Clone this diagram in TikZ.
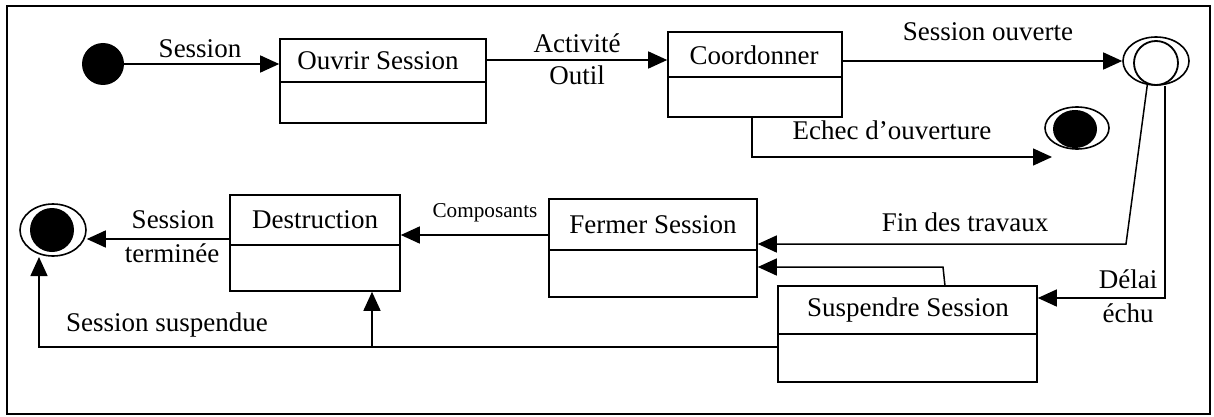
\documentclass[tikz,border=0pt]{standalone}
\usepackage{fontspec}
\setmainfont{Liberation Serif}
\usetikzlibrary{arrows.meta,shapes.geometric,fit,calc}

\tikzset{
  lbl/.style={inner sep=0pt, font=\fontsize{13.5}{15}\selectfont},
  small/.style={inner sep=0pt, font=\fontsize{10.6}{12}\selectfont},
  statebox/.style={draw, rectangle, inner sep=0pt, line width=0.8pt},
  arr/.style={line width=0.75pt, -{Triangle[length=9.5pt,width=8.5pt]}},
  ring/.style={draw, ellipse, inner sep=0pt, line width=0.8pt, fill=white},
  dot/.style={ellipse, inner sep=0pt, fill=black},
}

\begin{document}
\begin{tikzpicture}[x=0.5pt,y=-0.5pt]
\useasboundingbox (0,0) rectangle (1214,417);
% outer frame
\draw[line width=0.8pt] (7,6) rectangle (1210,414);

% initial, final and history states
\node[dot, minimum width=21pt, minimum height=21pt] (start) at (103,64) {};
\node[ring, minimum width=33pt, minimum height=24pt] (hist) at (1156,61) {};
\node[draw, circle, inner sep=0pt, line width=0.9pt, minimum size=22pt] (histIn) at (1156,63) {};
\node[ring, minimum width=32pt, minimum height=21pt] (fin1) at (1077,128) {};
\node[dot, minimum width=22pt, minimum height=19pt] (fin1In) at (1075,129) {};
\node[ring, minimum width=33pt, minimum height=26pt] (fin2) at (53,230) {};
\node[dot, minimum width=22pt, minimum height=22pt] (fin2In) at (52,230) {};

% state boxes (name compartment + empty compartment)
\node[statebox, fit={(280,39) (486,123)}] (ouvrir) {};
\draw[line width=0.8pt] (ouvrir.west |- 0,82) -- (ouvrir.east |- 0,82);
\node[lbl] (ouvrirT) at (378,61) {Ouvrir Session};

\node[statebox, fit={(668,32) (842,117)}] (coord) {};
\draw[line width=0.8pt] (coord.west |- 0,77) -- (coord.east |- 0,77);
\node[lbl] (coordT) at (754,55) {Coordonner};

\node[statebox, fit={(230,195) (400,291)}] (destr) {};
\draw[line width=0.8pt] (destr.west |- 0,245) -- (destr.east |- 0,245);
\node[lbl] (destrT) at (315,220) {Destruction};

\node[statebox, fit={(549,199) (757,297)}] (fermer) {};
\draw[line width=0.8pt] (fermer.west |- 0,250) -- (fermer.east |- 0,250);
\node[lbl] (fermerT) at (653,225) {Fermer Session};

\node[statebox, fit={(778,286) (1037,382)}] (susp) {};
\draw[line width=0.8pt] (susp.west |- 0,334) -- (susp.east |- 0,334);
\node[lbl] (suspT) at (908,310) {Suspendre Session};

% bend and level points of the connectors
\coordinate (echecA) at (752,157);
\coordinate (echecB) at (1052,157);
\coordinate (finA) at (1126,244);
\coordinate (delaiA) at (1165,298);
\coordinate (suspA) at (945,286);
\coordinate (suspB) at (943,267);
\coordinate (compY) at (0,235);
\coordinate (termY) at (0,239);
\coordinate (ssA) at (39,347);
\coordinate (ssB) at (39,257);
\coordinate (ssC) at (372,347);

% transitions
\draw[arr] (start.east) -- (start.east -| ouvrir.west);
\draw[arr] (ouvrir.east |- 0,60) -- (coord.west |- 0,60);
\draw[arr] (coord.east |- hist) -- (hist.west);
\draw[arr] (coord.south -| echecA) -- (echecA) -- (echecB);
\draw[arr] (hist.250) -- (finA) -- (finA -| fermer.east);
\draw[arr] (delaiA |- hist.south) -- (delaiA) -- (delaiA -| susp.east);
\draw[arr] (suspA) -- (suspB) -- (suspB -| fermer.east);
\draw[arr] (fermer.west |- compY) -- (destr.east |- compY);
\draw[arr] (destr.west |- termY) -- (fin2.east |- termY);
\draw[arr] (ssA -| susp.west) -- (ssA) -- (ssB);
\draw[arr] (ssC) -- (ssC |- destr.south);

% transition labels
\node[lbl] (lSession) at (200,49) {Session};
\node[lbl] (lActivite) at (577,43) {Activité};
\node[lbl] (lOutil) at (577,75) {Outil};
\node[lbl] (lOuverte) at (988,32) {Session ouverte};
\node[lbl] (lEchec) at (892,130) {Echec d’ouverture};
\node[lbl] (lFin) at (965,222) {Fin des travaux};
\node[small] (lComp) at (485,213) {Composants};
\node[lbl] (lTerm1) at (173,220) {Session};
\node[lbl] (lTerm2) at (172,253) {terminée};
\node[lbl] (lSusp) at (167,325) {Session suspendue};
\node[lbl] (lDelai) at (1128,279) {Délai};
\node[lbl] (lEchu) at (1128,313) {échu};
\end{tikzpicture}
\end{document}
